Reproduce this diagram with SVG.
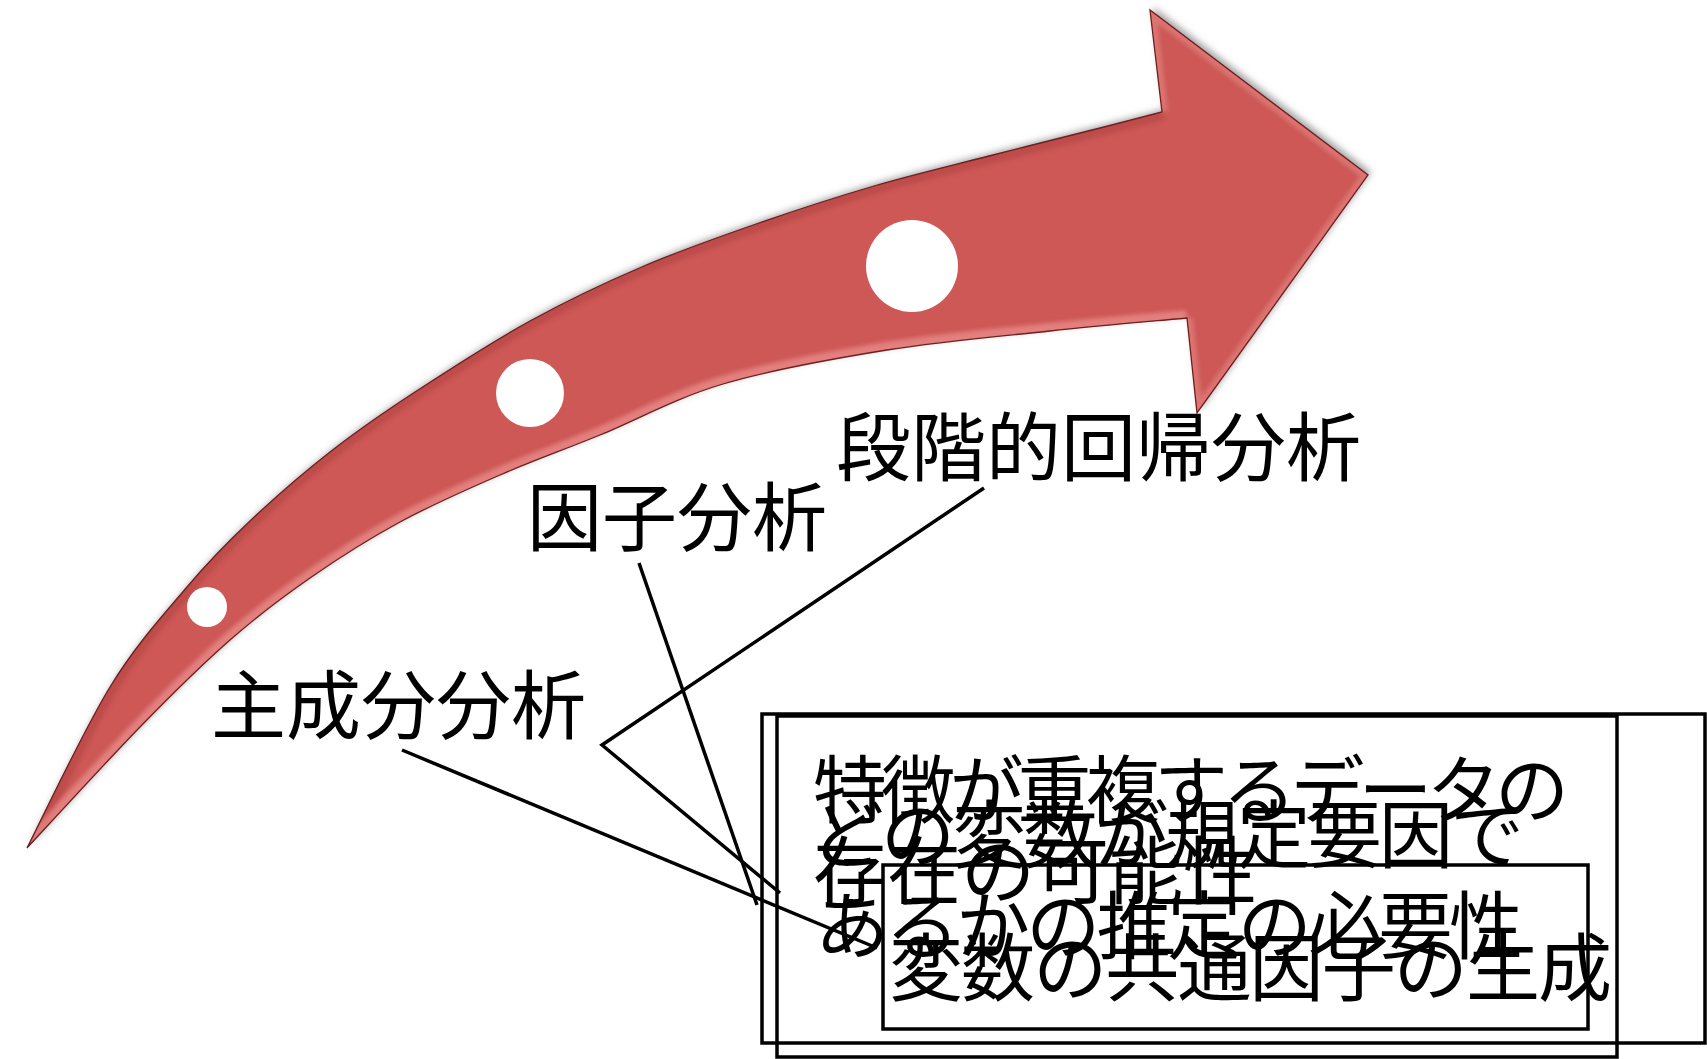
<svg xmlns="http://www.w3.org/2000/svg" width="1707" height="1059" viewBox="0 0 1707 1059">
<style>
.lbl{font-family:"Noto Sans CJK JP","Noto Sans CJK SC",sans-serif;font-size:75px;fill:#000}
.bt{font-family:"Noto Sans CJK JP","Noto Sans CJK SC",sans-serif;font-size:74px;fill:#000}
.box{fill:none;stroke:#000;stroke-width:3.5}
.con{fill:none;stroke:#000;stroke-width:3.5}
.dot{fill:#fff}
.bevel{fill:none;filter:url(#soft)}
</style>
<defs>
<path id="arrowPath" d="M27,848 C40.8,821.2 83.3,730.5 110,687 C136.7,643.5 163.7,614.7 187,587 C210.3,559.3 226.2,543.5 250,521 C273.8,498.5 302.5,473.5 330,452 C357.5,430.5 381.7,413.8 415,392 C448.3,370.2 491.8,342 530,321 C568.2,300 605.8,282.3 644,266 C682.2,249.7 720.7,236.3 759,223 C797.3,209.7 835.7,197.2 874,186 C912.3,174.8 950.7,165.8 989,156 C1027.3,146.2 1075.2,134.3 1104,127 C1132.8,119.7 1152.3,114.5 1162,112 L1150,10 L1368,175 L1197,413 L1187,318 C1164.2,320.2 1100,325.7 1050,331 C1000,336.3 941.5,341.2 887,350 C832.5,358.8 770.8,369.8 723,384 C675.2,398.2 637.2,419.8 600,435 C562.8,450.2 533.3,460.5 500,475 C466.7,489.5 431.7,504.8 400,522 C368.3,539.2 338.3,558.3 310,578 C281.7,597.7 258.3,615.2 230,640 C201.7,664.8 173.8,692.3 140,727 C106.2,761.7 45.8,827.8 27,848 Z"/>
<path id="upperEdge" d="M27,848 C40.8,821.2 83.3,730.5 110,687 C136.7,643.5 163.7,614.7 187,587 C210.3,559.3 226.2,543.5 250,521 C273.8,498.5 302.5,473.5 330,452 C357.5,430.5 381.7,413.8 415,392 C448.3,370.2 491.8,342 530,321 C568.2,300 605.8,282.3 644,266 C682.2,249.7 720.7,236.3 759,223 C797.3,209.7 835.7,197.2 874,186 C912.3,174.8 950.7,165.8 989,156 C1027.3,146.2 1075.2,134.3 1104,127 C1132.8,119.7 1152.3,114.5 1162,112"/>
<path id="lowerEdge" d="M1187,318 C1164.2,320.2 1100,325.7 1050,331 C1000,336.3 941.5,341.2 887,350 C832.5,358.8 770.8,369.8 723,384 C675.2,398.2 637.2,419.8 600,435 C562.8,450.2 533.3,460.5 500,475 C466.7,489.5 431.7,504.8 400,522 C368.3,539.2 338.3,558.3 310,578 C281.7,597.7 258.3,615.2 230,640 C201.7,664.8 173.8,692.3 140,727 C106.2,761.7 45.8,827.8 27,848"/>
<path id="headEdge" d="M1162,112 L1150,10 L1368,175 L1197,413 L1187,318"/>
<clipPath id="arrowClip"><use href="#arrowPath"/></clipPath>
<filter id="shadow" x="-10%" y="-10%" width="120%" height="120%">
<feDropShadow dx="3" dy="-3" stdDeviation="3.5" flood-color="#7a7a7a" flood-opacity="0.7"/>
</filter>
<filter id="soft" x="-5%" y="-5%" width="110%" height="110%"><feGaussianBlur stdDeviation="2.2"/></filter>
</defs>

<g id="arrow">
<use href="#arrowPath" fill="#CD5957" filter="url(#shadow)"/>
<g clip-path="url(#arrowClip)">
<use class="bevel" href="#upperEdge" stroke="#B04242" stroke-width="16" opacity="0.55"/>
<use class="bevel" href="#lowerEdge" stroke="#F29C9A" stroke-width="16" opacity="0.6"/>
<use class="bevel" href="#headEdge" stroke="#E88C8A" stroke-width="12" opacity="0.55"/>
</g>
<use href="#arrowPath" fill="none" stroke="#6E1F1F" stroke-width="1.3"/>
</g>

<g id="dots">
<circle class="dot" cx="207" cy="607" r="20"/>
<circle class="dot" cx="530" cy="393" r="34"/>
<circle class="dot" cx="912" cy="266" r="46"/>
</g>

<g id="label-stepwise"><text class="lbl" x="836" y="475">段階的回帰分析</text></g>
<g id="label-factor"><text class="lbl" x="527" y="545">因子分析</text></g>
<g id="label-pca"><text class="lbl" x="211" y="733">主成分分析</text></g>

<g id="box-a">
<rect class="box" x="762" y="714" width="943" height="329"/>
<text class="bt" x="813" y="817" textLength="756" lengthAdjust="spacing">特徴が重複するデータの</text>
<text class="bt" x="813" y="898">存在の可能性</text>
</g>
<g id="box-b">
<rect class="box" x="777" y="716" width="840" height="341"/>
<text class="bt" x="810" y="862" textLength="714" lengthAdjust="spacing">どの変数が規定要因で</text>
<text class="bt" x="815" y="953" textLength="708" lengthAdjust="spacing">あるかの推定の必要性</text>
</g>
<g id="box-c">
<rect class="box" x="883" y="865" width="705" height="164"/>
<text class="bt" x="889" y="995" textLength="723" lengthAdjust="spacing">変数の共通因子の生成</text>
</g>

<g id="connectors">
<line class="con" x1="402" y1="750" x2="877" y2="948"/>
<line class="con" x1="639" y1="563" x2="757" y2="905"/>
<polyline class="con" points="984,488 602,745 780,893"/>
</g>
</svg>
